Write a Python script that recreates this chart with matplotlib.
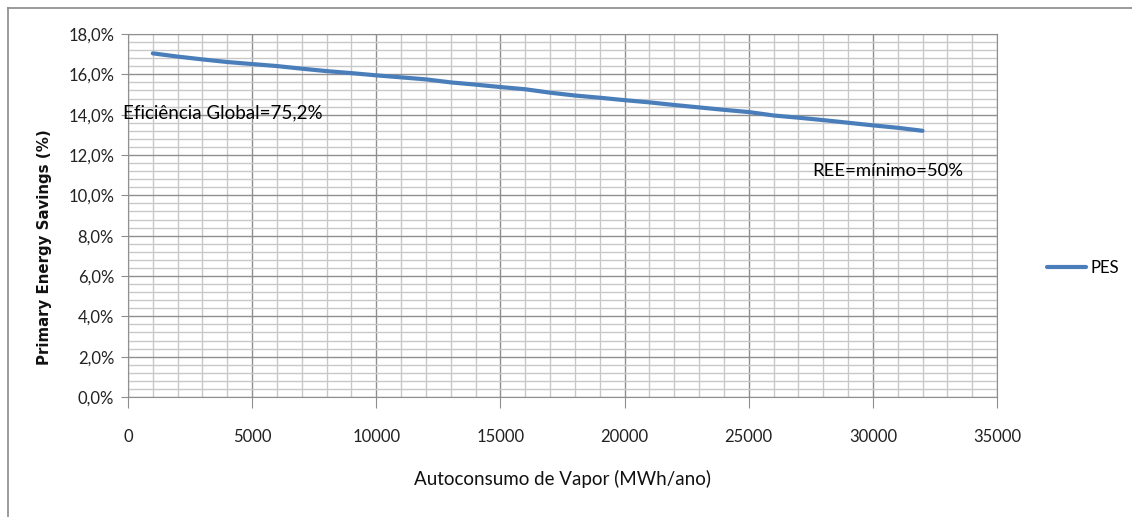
import matplotlib
matplotlib.use("Agg")
import matplotlib.pyplot as plt
from matplotlib.lines import Line2D
from matplotlib.ticker import MultipleLocator, FuncFormatter

plt.rcParams['font.family'] = ['Lato', 'DejaVu Sans']

autoconsumo = [1000, 2000, 3000, 4000, 5000, 6000, 7000, 8000, 9000, 10000,
               11000, 12000, 13000, 14000, 15000, 16000, 17000, 18000, 19000, 20000,
               21000, 22000, 23000, 24000, 25000, 26000, 27000, 28000, 29000, 30000,
               31000, 32000]
pes = [17.04, 16.88, 16.74, 16.61, 16.51, 16.41, 16.28, 16.16, 16.06, 15.95,
       15.85, 15.75, 15.60, 15.49, 15.37, 15.26, 15.09, 14.95, 14.84, 14.72,
       14.61, 14.48, 14.36, 14.24, 14.13, 13.96, 13.85, 13.73, 13.60, 13.47,
       13.35, 13.20]

W, H = 1132, 517
fig = plt.figure(figsize=(W/100, H/100), dpi=100)
ax = fig.add_axes([128/W, 1-397/H, (997-128)/W, (397-34)/H])

ax.plot(autoconsumo, pes, color='#4A7EBB', lw=3.0, solid_capstyle='round', label='PES', zorder=3)

ax.set_xlim(0, 35000)
ax.set_ylim(0, 18)
ax.xaxis.set_major_locator(MultipleLocator(5000))
ax.xaxis.set_minor_locator(MultipleLocator(1000))
ax.yaxis.set_major_locator(MultipleLocator(2))
ax.yaxis.set_minor_locator(MultipleLocator(0.4))
ax.yaxis.set_major_formatter(FuncFormatter(lambda v, p: f"{v:.1f}%".replace('.', ',')))
ax.grid(which='major', color='#8f8f8f', lw=1.0)
ax.grid(which='minor', color='#c8c8c8', lw=1.0)
ax.set_axisbelow(True)
for s in ax.spines.values():
    s.set_color('#8f8f8f')
ax.tick_params(axis='x', which='major', length=8, color='#8f8f8f', labelsize=12, pad=15, labelcolor='#222222')
ax.tick_params(axis='y', which='major', length=5, color='#8f8f8f', labelsize=12, pad=5, labelcolor='#222222')
ax.tick_params(which='minor', length=0)

ax.set_xlabel('Autoconsumo de Vapor (MWh/ano)', fontsize=13.5, labelpad=18, color='#111111')
ax.set_ylabel('Primary Energy Savings (%)', fontsize=10.8, fontweight='bold',
              family='DejaVu Sans', color='#111111')
ax.yaxis.set_label_coords(-0.0875, 0.413)

ax.text(-200, 14.1, 'Eficiência Global=75,2%', fontsize=13.5, va='center', ha='left', color='#000000', zorder=4)
ax.text(27550, 11.2, 'REE=mínimo=50%', fontsize=13.3, va='center', ha='left', color='#000000', zorder=4)

leg = ax.legend(loc='center left', bbox_to_anchor=(1.058, 0.355), frameon=False,
                fontsize=12, handlelength=2.3, handletextpad=0.3, borderpad=0, borderaxespad=0)

fig.add_artist(Line2D([8/W, 1], [1-8/H, 1-8/H], color='#8a8a8a', lw=1.2, transform=fig.transFigure))
fig.add_artist(Line2D([8/W, 8/W], [0, 1-8/H], color='#8a8a8a', lw=1.2, transform=fig.transFigure))

fig.savefig('out.png', dpi=100)
